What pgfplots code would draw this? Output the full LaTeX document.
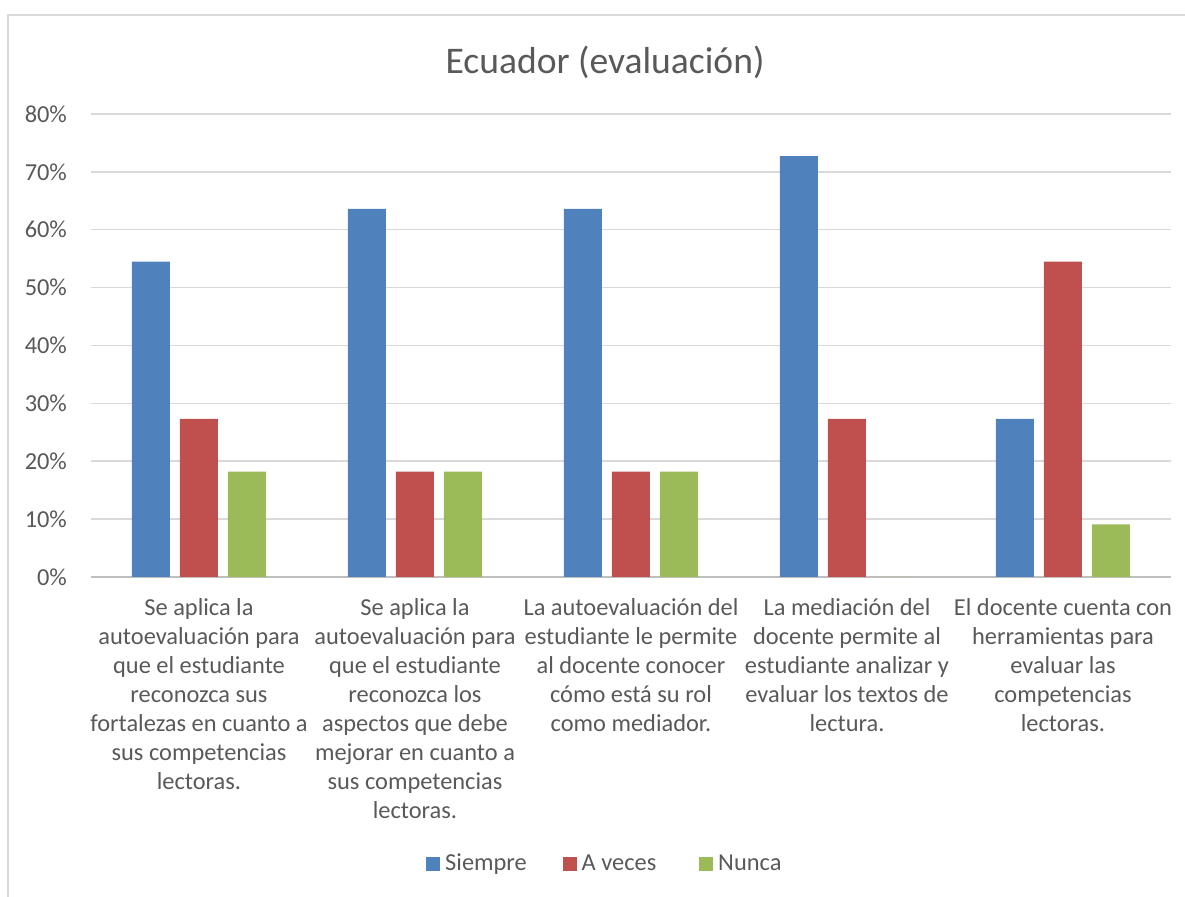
\documentclass[border=0pt]{standalone}
\usepackage{pgfplots}
\pgfplotsset{compat=1.18}
\usepackage{fontspec}
\setmainfont{Carlito}
\definecolor{cblue}{HTML}{4F81BD}
\definecolor{cred}{HTML}{C0504D}
\definecolor{cgreen}{HTML}{9BBB59}
\definecolor{txtgray}{HTML}{595959}
\definecolor{gridgray}{HTML}{D9D9D9}
\definecolor{axgray}{HTML}{BFBFBF}
\begin{document}
\begin{tikzpicture}[x=1pt,y=1pt]
\useasboundingbox (0,0) rectangle (592.5,448.5);
\draw[color=gridgray, line width=0.75pt] (4,0) -- (4,441) -- (592.5,441);
\node[text=txtgray, font=\fontsize{18.8}{22}\selectfont] at (302.5,417.5) {Ecuador (evaluación)};
\begin{axis}[
  at={(45.5pt,160pt)}, anchor=south west,
  width=540pt, height=231.5pt, scale only axis,
  ybar=5pt, bar width=19pt,
  xmin=-0.5, xmax=4.5, ymin=0, ymax=80,
  xtick={0,1,2,3,4},
  xticklabels={
    {Se aplica la\\autoevaluación para\\que el estudiante\\reconozca sus\\fortalezas en cuanto a\\sus competencias\\lectoras.},
    {Se aplica la\\autoevaluación para\\que el estudiante\\reconozca los\\aspectos que debe\\mejorar en cuanto a\\sus competencias\\lectoras.},
    {La autoevaluación del\\estudiante le permite\\al docente conocer\\cómo está su rol\\como mediador.},
    {La mediación del\\docente permite al\\estudiante analizar y\\evaluar los textos de\\lectura.},
    {El docente cuenta con\\herramientas para\\evaluar las\\competencias\\lectoras.}},
  ytick={0,10,20,30,40,50,60,70,80},
  yticklabels={0\%,10\%,20\%,30\%,40\%,50\%,60\%,70\%,80\%},
  ymajorgrids, grid style={color=gridgray, line width=0.75pt},
  axis x line*=bottom, axis y line*=left,
  y axis line style={draw=none},
  x axis line style={draw=axgray, line width=0.75pt, -},
  major tick length=0pt, tick style={draw=none},
  xticklabel style={text=txtgray, font=\fontsize{12.2}{14.5}\selectfont, align=center, anchor=north, yshift=-7.5pt},
  yticklabel style={text=txtgray, font=\fontsize{12.2}{14.5}\selectfont, xshift=-8.5pt},
  every axis plot post/.append style={legend image code/.code={\fill[##1] (0pt,-3.5pt) rectangle (7pt,3.5pt);}},
  legend columns=3,
  legend style={at={(axis description cs:0.5,0)}, anchor=center, yshift=-143.5pt, draw=none, fill=none,
    font=\fontsize{12.2}{14.5}\selectfont, text=txtgray, inner sep=0pt,
    nodes={inner sep=0pt}, /tikz/every even column/.append style={column sep=0pt}},
]
\addplot[fill=cblue, draw=none] coordinates {(0,54.5) (1,63.6) (2,63.6) (3,72.7) (4,27.3)};
\addplot[fill=cred, draw=none] coordinates {(0,27.3) (1,18.2) (2,18.2) (3,27.3) (4,54.5)};
\addplot[fill=cgreen, draw=none] coordinates {(0,18.2) (1,18.2) (2,18.2) (3,0) (4,9.1)};
\legend{\makebox[61.25pt][l]{\hspace{2.5pt}Siempre},\makebox[61.25pt][l]{\hspace{2.5pt}A veces},\makebox[61.25pt][l]{\hspace{2.5pt}Nunca}}
\end{axis}
\end{tikzpicture}
\end{document}
